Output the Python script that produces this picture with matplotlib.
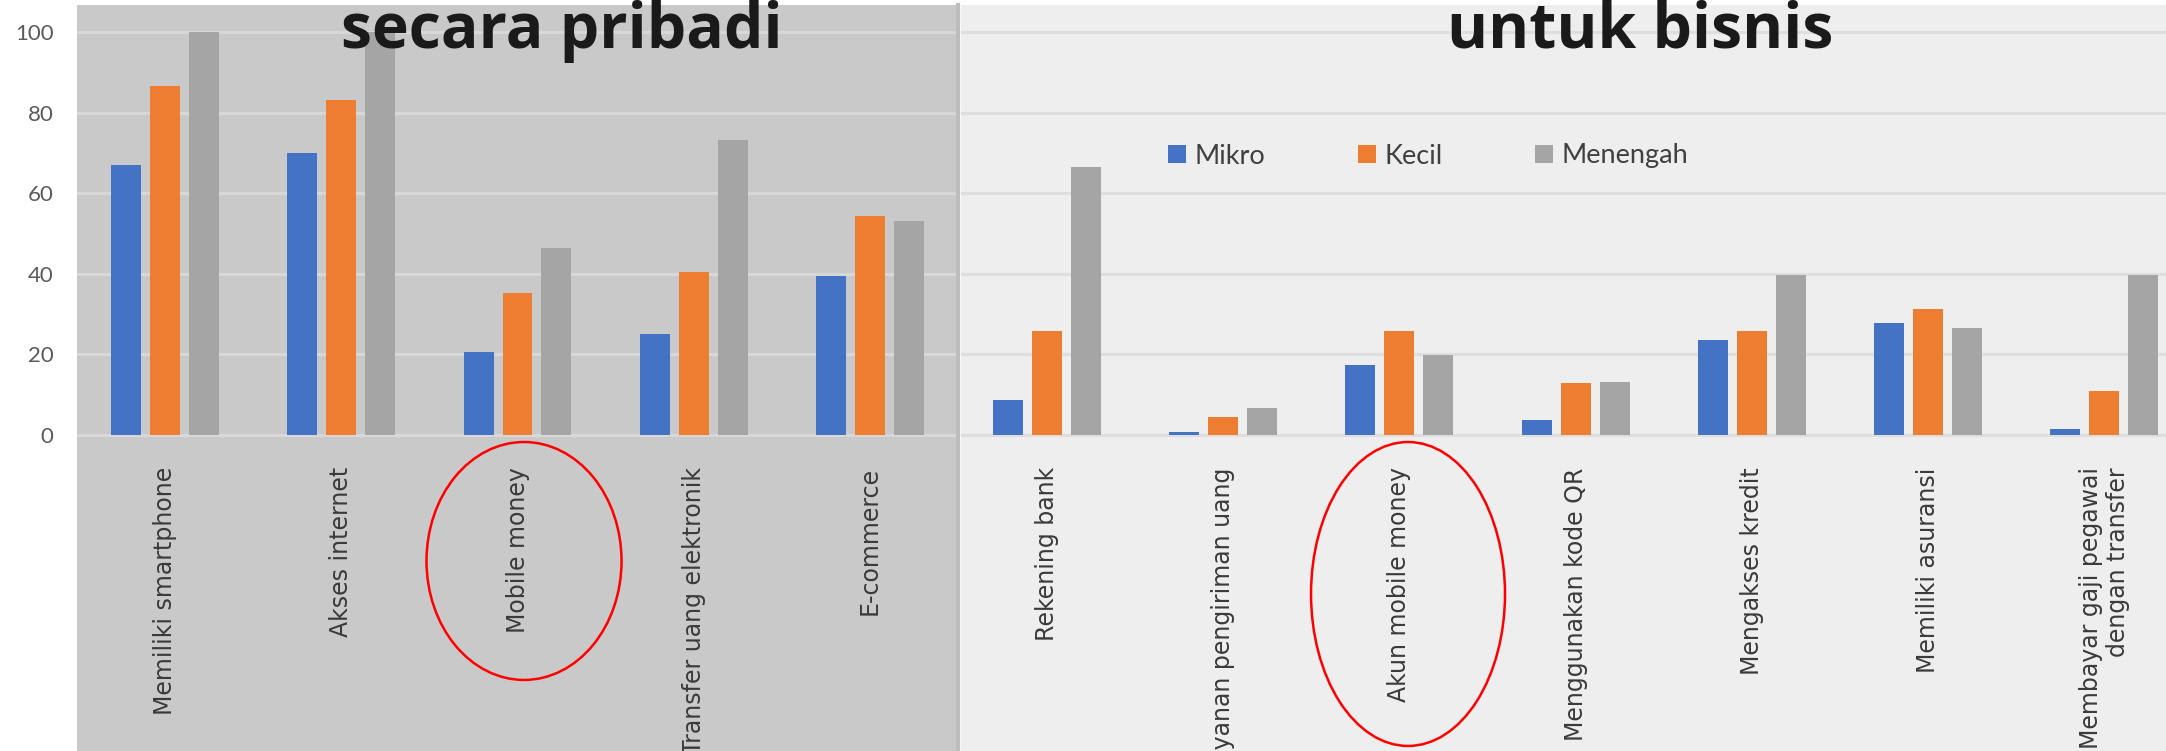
import matplotlib.pyplot as plt
from matplotlib.patches import Ellipse
import numpy as np

# personal use (left panel)
pribadi_labels = ["Memiliki smartphone", "Akses internet", "Mobile money",
                  "Transfer uang elektronik", "E-commerce"]
pribadi_mikro = [67, 70, 20.7, 25.2, 39.5]
pribadi_kecil = [86.8, 83.1, 35.3, 40.5, 54.3]
pribadi_menengah = [100, 100, 46.5, 73.2, 53.2]

# business use (right panel)
bisnis_labels = ["Rekening bank", "Layanan pengiriman uang", "Akun mobile money",
                 "Menggunakan kode QR", "Mengakses kredit", "Memiliki asuransi",
                 "Membayar gaji pegawai\ndengan transfer"]
bisnis_mikro = [8.7, 0.7, 17.4, 3.7, 23.7, 27.9, 1.4]
bisnis_kecil = [25.8, 4.5, 25.8, 12.8, 25.8, 31.2, 10.9]
bisnis_menengah = [66.6, 6.6, 19.9, 13.2, 39.7, 26.5, 39.7]

series_names = ["Mikro", "Kecil", "Menengah"]
colors = ["#4472C4", "#ED7D31", "#A5A5A5"]
yticks = [0, 20, 40, 60, 80, 100]

W, H = 2166, 751
fig = plt.figure(figsize=(W / 100, H / 100), dpi=100)
fig.patch.set_facecolor("white")

ax_l = fig.add_axes([77 / W, 0, 881 / W, 1 - 5 / H])
ax_r = fig.add_axes([961 / W, 0, 1205 / W, 1 - 5 / H], sharey=ax_l)

ymin, ymax = -78.5, 106.8
bw, step = 0.17, 0.221


def draw_panel(ax, labels, groups, bg, grid, xlim):
    ax.set_facecolor(bg)
    x = np.arange(len(labels))
    bars = []
    for k, (vals, c) in enumerate(zip(groups, colors)):
        bars.append(ax.bar(x + (k - 1) * step, vals, width=bw, color=c,
                           zorder=3, label=series_names[k]))
    for t in yticks:
        ax.axhline(t, color=grid, lw=2.2, zorder=1)
    for i, lab in enumerate(labels):
        ax.text(i, -8, lab, rotation=90, ha="center", va="top",
                multialignment="right", fontsize=17, color="#3a3a3a",
                family="DejaVu Sans", zorder=4, linespacing=1.15)
    ax.set_xlim(*xlim)
    ax.set_ylim(ymin, ymax)
    ax.set_xticks([])
    for s in ax.spines.values():
        s.set_visible(False)
    ax.grid(False)
    return bars


draw_panel(ax_l, pribadi_labels, [pribadi_mikro, pribadi_kecil, pribadi_menengah],
           "#c9c9c9", "#d8d8d8", (-0.5, 4.5))
bars = draw_panel(ax_r, bisnis_labels, [bisnis_mikro, bisnis_kecil, bisnis_menengah],
                  "#eeeeee", "#dedede", (-0.488, -0.488 + 1205 / 176.2))

ax_l.set_yticks(yticks)
ax_l.tick_params(axis="y", length=0, pad=17, labelsize=16, labelcolor="#5a5a5a")
for lbl in ax_l.get_yticklabels():
    lbl.set_family("Lato")
ax_r.tick_params(axis="y", left=False, labelleft=False)

# darker seam along the edge of the left panel
ax_l.spines["right"].set_visible(True)
ax_l.spines["right"].set_color("#bdbdbd")
ax_l.spines["right"].set_linewidth(3)

# highlight the mobile money categories
ax_l.add_patch(Ellipse((2.037, -31.3), 1.107, 59.1, fill=False,
                       edgecolor="red", lw=1.8, zorder=5, clip_on=False))
ax_r.add_patch(Ellipse((2.049, -39.5), 1.101, 75.5, fill=False,
                       edgecolor="red", lw=1.8, zorder=5, clip_on=False))

leg = ax_r.legend(loc="center left", bbox_to_anchor=(1168 / W, 1 - 156 / H),
                  bbox_transform=fig.transFigure, ncol=3, frameon=False,
                  handlelength=0.66, handleheight=0.66, handletextpad=0.33,
                  columnspacing=3.4, borderpad=0, borderaxespad=0,
                  prop={"family": "Lato", "size": 19.5})
for t in leg.get_texts():
    t.set_color("#404040")

fig.text(562 / W, 1 - 48 / H, "secara pribadi", ha="center", va="baseline",
         fontsize=45, fontweight="bold", family="Open Sans", color="#1a1a1a")
fig.text(1640 / W, 1 - 48 / H, "untuk bisnis", ha="center", va="baseline",
         fontsize=45, fontweight="bold", family="Open Sans", color="#1a1a1a")

fig.savefig("out.png", dpi=100)
